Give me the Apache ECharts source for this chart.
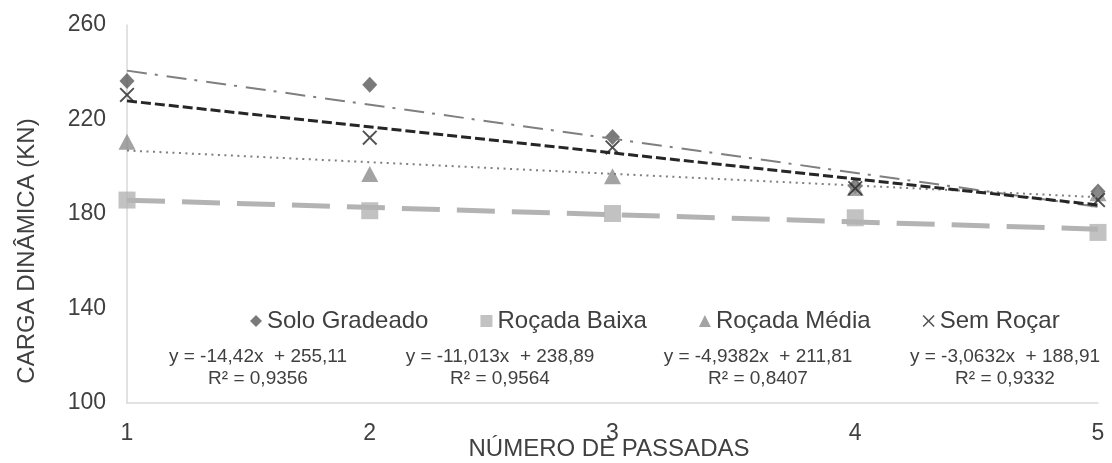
<!DOCTYPE html>
<html>
<head>
<meta charset="utf-8">
<script src="https://cdn.jsdelivr.net/npm/echarts@6/dist/echarts.min.js"></script>
<style>
html,body{margin:0;padding:0;background:#fff;}
#chart{width:1112px;height:463px;}
</style>
</head>
<body>
<div id="chart"></div>
<script>
// ---- data ----
var passadas = [1, 2, 3, 4, 5];
var soloGradeado = [236.3, 234.7, 212.6, 191.8, 189.5];
var rocadaBaixa = [185.9, 181.4, 180.2, 178.4, 172.2];
var rocadaMedia = [210.6, 196.9, 196.0, 191.0, 188.8];
var semRocar = [230.4, 212.3, 208.2, 190.9, 185.9];
// trendline values at x = 1 and x = 5 (as shown by the fitted lines)
var trendX = [1, 5];
var trendSolo = [240.69, 183.01];
var trendBaixa = [185.85, 173.59];
var trendMedia = [206.87, 187.12];
var trendSem = [227.88, 183.83];
var seriesNames = ['Solo Gradeado', 'Roçada Baixa', 'Roçada Média', 'Sem Roçar'];
var equations = ['y = -14,42x  + 255,11', 'y = -11,013x  + 238,89', 'y = -4,9382x  + 211,81', 'y = -3,0632x  + 188,91'];
var r2Labels = ['R² = 0,9356', 'R² = 0,9564', 'R² = 0,8407', 'R² = 0,9332'];
var yTicks = [100, 140, 180, 220, 260];
var xAxisTitle = 'NÚMERO DE PASSADAS';
var yAxisTitle = 'CARGA DINÂMICA (KN)';

var FONT = '"Liberation Sans", Arial, Helvetica, sans-serif';
var xPath = 'path://M0,9L9,0L50,41L91,0L100,9L59,50L100,91L91,100L50,59L9,100L0,91L41,50Z';

function pairs(xs, ys) { return xs.map(function (x, i) { return [x, ys[i]]; }); }

var chart = echarts.init(document.getElementById('chart'), null, {renderer: 'canvas'});

var eqCenters = [258, 500, 758, 1005];
var graphics = [{
  type: 'text', x: 27, y: 251, rotation: Math.PI / 2,
  style: {text: yAxisTitle, font: '24px ' + FONT, fill: '#404040', textAlign: 'center', textVerticalAlign: 'middle'}
}, {
  type: 'text', x: 609, y: 449,
  style: {text: xAxisTitle, font: '24px ' + FONT, fill: '#404040', textAlign: 'center', textVerticalAlign: 'middle'}
}];
equations.forEach(function (eq, i) {
  graphics.push({type: 'text', x: eqCenters[i], y: 357,
    style: {text: eq, font: '19px ' + FONT, fill: '#404040', textAlign: 'center', textVerticalAlign: 'middle'}});
  graphics.push({type: 'text', x: eqCenters[i], y: 379,
    style: {text: r2Labels[i], font: '19px ' + FONT, fill: '#404040', textAlign: 'center', textVerticalAlign: 'middle'}});
});

var option = {
  animation: false,
  backgroundColor: '#ffffff',
  textStyle: {fontFamily: FONT},
  grid: {left: 127, right: 14, top: 25, bottom: 60, containLabel: false, outerBoundsMode: 'none'},
  legend: {
    left: 250, top: 309, padding: 0, itemGap: 52, itemWidth: 12, itemHeight: 12,
    textStyle: {fontSize: 24, color: '#404040', fontFamily: FONT},
    data: [
      {name: seriesNames[0], icon: 'diamond'},
      {name: seriesNames[1], icon: 'rect'},
      {name: seriesNames[2], icon: 'triangle'},
      {name: seriesNames[3], icon: xPath}
    ]
  },
  xAxis: {
    type: 'value', min: 1, max: 5, interval: 1,
    axisLine: {show: true, lineStyle: {color: '#d9d9d9', width: 1.5}},
    axisTick: {show: false},
    splitLine: {show: false},
    axisLabel: {fontSize: 23, color: '#404040', margin: 19, fontFamily: FONT}
  },
  yAxis: {
    type: 'value', min: yTicks[0], max: yTicks[yTicks.length - 1], interval: 40,
    axisLine: {show: true, lineStyle: {color: '#d9d9d9', width: 1.5}},
    axisTick: {show: false},
    splitLine: {show: false},
    axisLabel: {fontSize: 23, color: '#404040', margin: 21, fontFamily: FONT}
  },
  graphic: graphics,
  series: [
    {name: seriesNames[0], type: 'scatter', symbol: 'diamond', symbolSize: [15, 16], z: 2,
      itemStyle: {color: '#595959'}, data: pairs(passadas, soloGradeado)},
    {name: seriesNames[1], type: 'scatter', symbol: 'rect', symbolSize: 17, z: 2,
      itemStyle: {color: '#b3b3b3'}, data: pairs(passadas, rocadaBaixa)},
    {name: seriesNames[2], type: 'scatter', symbol: 'triangle', symbolSize: [17, 16], z: 2,
      itemStyle: {color: '#8c8c8c'}, data: pairs(passadas, rocadaMedia)},
    {name: seriesNames[3], type: 'scatter', symbol: xPath, symbolSize: 15, z: 2,
      itemStyle: {color: '#262626'}, data: pairs(passadas, semRocar)},
    {name: 'trendSolo', type: 'line', showSymbol: false, symbol: 'none', z: 5, silent: true,
      lineStyle: {color: '#7f7f7f', width: 2, type: [20, 8, 3, 9]}, data: pairs(trendX, trendSolo)},
    {name: 'trendBaixa', type: 'line', showSymbol: false, symbol: 'none', z: 5, silent: true,
      lineStyle: {color: '#b3b3b3', width: 5, type: [38, 17]}, data: pairs(trendX, trendBaixa)},
    {name: 'trendMedia', type: 'line', showSymbol: false, symbol: 'none', z: 5, silent: true,
      lineStyle: {color: '#7f7f7f', width: 2, type: [2, 4.5]}, data: pairs(trendX, trendMedia)},
    {name: 'trendSem', type: 'line', showSymbol: false, symbol: 'none', z: 6, silent: true,
      lineStyle: {color: '#262626', width: 3, type: [10, 4]}, data: pairs(trendX, trendSem)}
  ]
};
chart.setOption(option);
</script>
</body>
</html>
